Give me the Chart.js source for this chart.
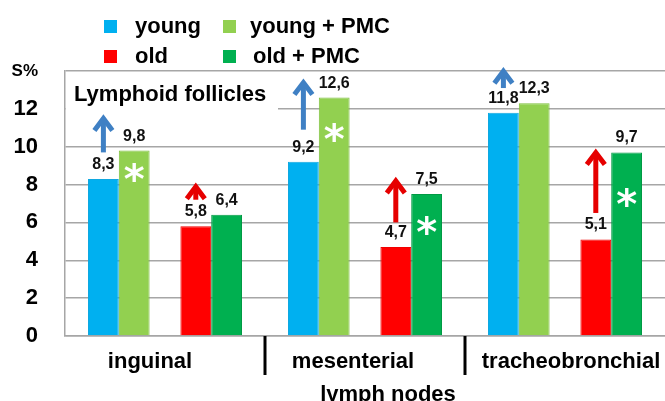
<!DOCTYPE html>
<html><head><meta charset="utf-8">
<script src="https://cdn.jsdelivr.net/npm/chart.js@4.4.1/dist/chart.umd.min.js"></script>
<style>html,body{margin:0;padding:0;background:#fff}#wrap{width:665px;height:401px;position:relative}</style>
</head><body><div id="wrap"><canvas id="c"></canvas></div>
<script>
// ---- data ----
const categories = ['inguinal', 'mesenterial', 'tracheobronchial'];
const axisTitle = 'lymph nodes';
const seriesNames = ['young', 'young + PMC', 'old', 'old + PMC'];
const young = [8.3, 9.2, 11.8];
const youngPMC = [9.8, 12.6, 12.3];
const old = [5.8, 4.7, 5.1];
const oldPMC = [6.4, 7.5, 9.7];
const yTicks = [0, 2, 4, 6, 8, 10, 12, 14];
const yTopLabel = 'S%';
const panelTitle = 'Lymphoid follicles';
// significance asterisks (value level inside the bar, null = none)
const starYoungPMC = [8.65, 10.8, null];
const starOldPMC = [null, 5.85, 7.35];
// arrows (from value -> to value) above young and old bars
const arrowYoungFrom = [9.7, 10.9, 13.1];
const arrowYoungTo = [11.7, 13.6, 14.2];
const arrowOldFrom = [7.2, 6.0, 6.5];
const arrowOldTo = [8.1, 8.4, 9.9];

// ---- styles ----
const COL = { young: '#00b0f0', youngPMC: '#92d050', old: '#ff0000', oldPMC: '#00b050' };
const BORDER = { young: '#10a8e0', youngPMC: '#7cbf3c', old: '#f00000', oldPMC: '#009a44' };
const FONT = "'Liberation Sans', Arial, sans-serif";
const ARROW_BLUE = '#3f80c4';
const ARROW_RED = '#e60000';
const labelShift = [-15, -12, 6];

function fmt(v) { return v.toFixed(1).replace('.', ','); }

function drawArrow(ctx, x, yFrom, yTo, color) {
  ctx.save();
  ctx.strokeStyle = color; ctx.lineWidth = 5; ctx.lineCap = 'butt'; ctx.lineJoin = 'miter';
  const tip = yTo + 4;
  ctx.beginPath(); ctx.moveTo(x, yFrom); ctx.lineTo(x, tip + 2); ctx.stroke();
  ctx.beginPath(); ctx.moveTo(x - 9, tip + 12); ctx.lineTo(x, tip); ctx.lineTo(x + 9, tip + 12); ctx.stroke();
  ctx.restore();
}

function drawStar(ctx, x, yc) {
  ctx.save();
  ctx.font = "bold 40px 'DejaVu Sans', sans-serif";
  ctx.fillStyle = '#ffffff';
  ctx.textAlign = 'center'; ctx.textBaseline = 'alphabetic';
  const m = ctx.measureText('*');
  const off = (m.actualBoundingBoxAscent - m.actualBoundingBoxDescent) / 2;
  ctx.fillText('*', x, yc + off);
  ctx.restore();
}

const decor = {
  id: 'decor',
  beforeDatasetsDraw(chart) {
    const { ctx, chartArea: a } = chart;
    ctx.save();
    ctx.fillStyle = '#fff';
    ctx.fillRect(a.left + 1, a.top + 9, 277 - a.left, 32);
    ctx.restore();
  },
  afterDraw(chart) {
    const { ctx, chartArea: a, scales: { x, y } } = chart;
    ctx.save();
    // panel title
    ctx.fillStyle = '#000';
    ctx.font = 'bold 22px ' + FONT;
    ctx.textAlign = 'left'; ctx.textBaseline = 'alphabetic';
    ctx.fillText(panelTitle, a.left + 9, a.top + 30);

    // legend (2x2)
    const legend = [
      { t: seriesNames[0], c: COL.young, b: BORDER.young, sx: 104, tx: 135, row: 0 },
      { t: seriesNames[1], c: COL.youngPMC, b: BORDER.youngPMC, sx: 223, tx: 250, row: 0 },
      { t: seriesNames[2], c: COL.old, b: BORDER.old, sx: 104, tx: 135, row: 1 },
      { t: seriesNames[3], c: COL.oldPMC, b: BORDER.oldPMC, sx: 223, tx: 253, row: 1 },
    ];
    legend.forEach(it => {
      const base = 33 + it.row * 30;
      ctx.fillStyle = it.c;
      ctx.fillRect(it.sx, base - 13, 13, 13);
      ctx.fillStyle = '#000';
      ctx.font = 'bold 22px ' + FONT;
      ctx.fillText(it.t, it.tx, base);
    });

    // data labels
    ctx.font = 'bold 16px ' + FONT;
    ctx.textAlign = 'center';
    [0, 1, 3, 4].forEach(di => {
      const meta = chart.getDatasetMeta(di);
      const data = chart.data.datasets[di].data;
      meta.data.forEach((el, i) => {
        if (data[i] == null) return;
        ctx.fillStyle = '#111';
        ctx.fillText(fmt(data[i]), el.x, el.y - 10);
      });
    });

    // arrows
    const my = chart.getDatasetMeta(0), mo = chart.getDatasetMeta(3);
    categories.forEach((c, i) => {
      drawArrow(ctx, my.data[i].x, y.getPixelForValue(arrowYoungFrom[i]), y.getPixelForValue(arrowYoungTo[i]), ARROW_BLUE);
      drawArrow(ctx, mo.data[i].x, y.getPixelForValue(arrowOldFrom[i]), y.getPixelForValue(arrowOldTo[i]), ARROW_RED);
    });

    // asterisks
    const myp = chart.getDatasetMeta(1), mop = chart.getDatasetMeta(4);
    categories.forEach((c, i) => {
      if (starYoungPMC[i] != null) drawStar(ctx, myp.data[i].x, y.getPixelForValue(starYoungPMC[i]));
      if (starOldPMC[i] != null) drawStar(ctx, mop.data[i].x, y.getPixelForValue(starOldPMC[i]));
    });

    // group separators
    ctx.strokeStyle = '#000'; ctx.lineWidth = 3;
    for (let i = 0; i < categories.length - 1; i++) {
      const sx = Math.round((x.getPixelForValue(i) + x.getPixelForValue(i + 1)) / 2);
      ctx.beginPath(); ctx.moveTo(sx, a.bottom); ctx.lineTo(sx, a.bottom + 39); ctx.stroke();
    }

    // category labels & axis title
    ctx.fillStyle = '#000';
    ctx.font = 'bold 22px ' + FONT;
    ctx.textAlign = 'center';
    categories.forEach((c, i) => {
      ctx.fillText(c, x.getPixelForValue(i) + labelShift[i], a.bottom + 32);
    });
    ctx.fillText(axisTitle, x.getPixelForValue(1) + 23, a.bottom + 65);
    ctx.restore();
  }
};

const spacer = categories.map(() => null);
new Chart(document.getElementById('c'), {
  type: 'bar',
  data: {
    labels: categories,
    datasets: [
      { label: seriesNames[0], data: young, backgroundColor: COL.young, borderColor: BORDER.young, borderWidth: 1 },
      { label: seriesNames[1], data: youngPMC, backgroundColor: COL.youngPMC, borderColor: BORDER.youngPMC, borderWidth: 1 },
      { label: '', data: spacer, backgroundColor: 'transparent' },
      { label: seriesNames[2], data: old, backgroundColor: COL.old, borderColor: BORDER.old, borderWidth: 1 },
      { label: seriesNames[3], data: oldPMC, backgroundColor: COL.oldPMC, borderColor: BORDER.oldPMC, borderWidth: 1 },
    ]
  },
  options: {
    responsive: true, maintainAspectRatio: false, animation: false,
    devicePixelRatio: 1,
    layout: { padding: { top: 71, left: 0, right: 0, bottom: 0 } },
    categoryPercentage: 0.77, barPercentage: 1.0,
    plugins: { legend: { display: false }, tooltip: { enabled: false } },
    scales: {
      x: {
        ticks: { display: false },
        grid: { display: false, drawTicks: false },
        border: { display: true, color: '#a6a6a6', width: 1.5 },
        afterFit(s) { s.height = 65; }
      },
      y: {
        min: 0, max: 14,
        afterBuildTicks(s) { s.ticks = yTicks.map(v => ({ value: v })); },
        ticks: {
          padding: 27, color: '#000',
          callback: (v) => v === 14 ? yTopLabel : String(v),
          font: (ctx) => (ctx.tick && ctx.tick.value === 14)
            ? { family: FONT, size: 17, weight: 'bold' }
            : { family: FONT, size: 22, weight: 'bold' }
        },
        grid: { color: '#a6a6a6', lineWidth: 1.5, drawTicks: false },
        border: { display: true, color: '#a6a6a6', width: 1.5 },
        afterFit(s) { s.width = 65; }
      }
    }
  },
  plugins: [decor]
});
</script>
</body></html>
